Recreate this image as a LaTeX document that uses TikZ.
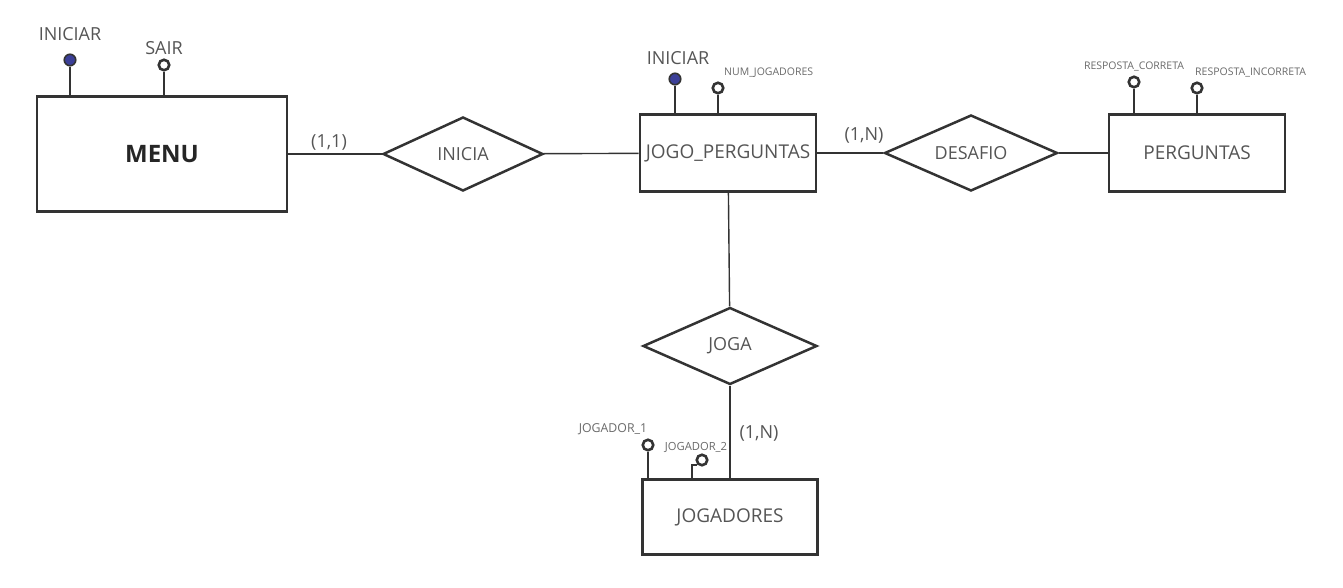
\documentclass[tikz,border=0pt]{standalone}
\usepackage{fontspec}
\setmainfont{Open Sans}
\usetikzlibrary{positioning, shapes.geometric}
\definecolor{txtgray}{HTML}{555555}
\definecolor{smallgray}{HTML}{6A6A6A}
\definecolor{linegray}{HTML}{333333}
\definecolor{keyblue}{HTML}{3B3F98}
\tikzset{
	entity/.style = {draw=linegray, line width=2.8pt, rectangle, minimum width=176pt, minimum height=77pt, inner sep=0pt, text=txtgray, font=\fontsize{19}{21}\selectfont},
	relation/.style = {draw=linegray, line width=2.5pt, diamond, aspect=2.25, minimum width=173pt, minimum height=76pt, inner sep=0pt, text=txtgray, font=\fontsize{18}{20}\selectfont},
	keyattr/.style = {circle, draw=linegray, fill=keyblue, line width=1.6pt, minimum size=11.5pt, inner sep=0pt},
	attr/.style = {circle, draw=linegray, fill=white, line width=2.6pt, minimum size=10.5pt, inner sep=0pt},
	stem/.style = {draw=linegray, line width=1.8pt},
	link/.style = {draw=linegray, line width=1.4pt},
	attrlabel/.style = {text=txtgray, inner sep=0pt, font=\fontsize{18}{20}\selectfont},
	tinylabel/.style = {text=smallgray, inner sep=0pt, font=\fontsize{10.5}{12}\selectfont},
	card/.style = {text=txtgray, inner sep=0pt, font=\fontsize{18}{20}\selectfont}
}
\begin{document}
\begin{tikzpicture}[x = 1pt, y = -1pt]
	\useasboundingbox (0,0) rectangle (1343,588);

	\node[entity, minimum width=250pt, minimum height=115pt, font=\fontsize{24}{26}\selectfont\bfseries, text=black!85] (menu) at (162,154) {MENU};
	\node[relation, minimum width=160pt, minimum height=74pt] (inicia) at (463,154) {INICIA};
	\node[entity] (jogo) at (728,153) {JOGO\_PERGUNTAS};
	\node[relation] (desafio) at (971,153) {DESAFIO};
	\node[entity] (perguntas) at (1197,153) {PERGUNTAS};
	\node[relation, minimum width=174pt, minimum height=77pt] (joga) at (730,346) {JOGA};
	\node[entity, minimum width=175pt, minimum height=75pt] (jogadores) at (730,517) {JOGADORES};

	\draw[link] (menu) -- (inicia);
	\draw[link] (inicia) -- (jogo);
	\draw[link] (jogo) -- (desafio);
	\draw[link] (desafio) -- (perguntas);
	\draw[link] (jogo) -- (joga);
	\draw[link] (joga) -- (jogadores);

	\node[card] (cmenu) at (329,142) {(1,1)};
	\node[card] (cdesafio) at (864,135) {(1,N)};
	\node[card] (cjoga) at (759,433) {(1,N)};

	\node[keyattr] (iniciar) at (70,60) {};
	\node[attrlabel] (iniciartxt) at (70,34) {INICIAR};
	\node[attr] (sair) at (164,65) {};
	\node[attrlabel] (sairtxt) at (164,48) {SAIR};
	\draw[stem] (iniciar) -- (iniciar |- menu.north);
	\draw[stem] (sair) -- (sair |- menu.north);

	\node[keyattr] (jiniciar) at (675,79) {};
	\node[attrlabel] (jiniciartxt) at (678,58) {INICIAR};
	\node[attr] (numjog) at (718,88) {};
	\node[tinylabel, anchor=west] (numjogtxt) at (724,73) {NUM\_JOGADORES};
	\draw[stem] (jiniciar) -- (jiniciar |- jogo.north);
	\draw[stem] (numjog) -- (numjog |- jogo.north);

	\node[attr] (correta) at (1134,82) {};
	\node[tinylabel] (corretatxt) at (1134,67) {RESPOSTA\_CORRETA};
	\node[attr] (incorreta) at (1197,88) {};
	\node[tinylabel, anchor=west] (incorretatxt) at (1195,73) {RESPOSTA\_INCORRETA};
	\draw[stem] (correta) -- (correta |- perguntas.north);
	\draw[stem] (incorreta) -- (incorreta |- perguntas.north);

	\node[attr] (jog1) at (648,445) {};
	\node[tinylabel, font=\fontsize{12.3}{14}\selectfont] (jog1txt) at (613,429) {JOGADOR\_1};
	\node[attr] (jog2) at (702,460) {};
	\node[tinylabel, font=\fontsize{11.2}{13}\selectfont] (jog2txt) at (696,447) {JOGADOR\_2};
	\draw[stem] (jog1) -- (jog1 |- jogadores.north);
	\draw[stem] (jog2.south west) -| ([xshift=-38pt]jogadores.north);
\end{tikzpicture}
\end{document}
